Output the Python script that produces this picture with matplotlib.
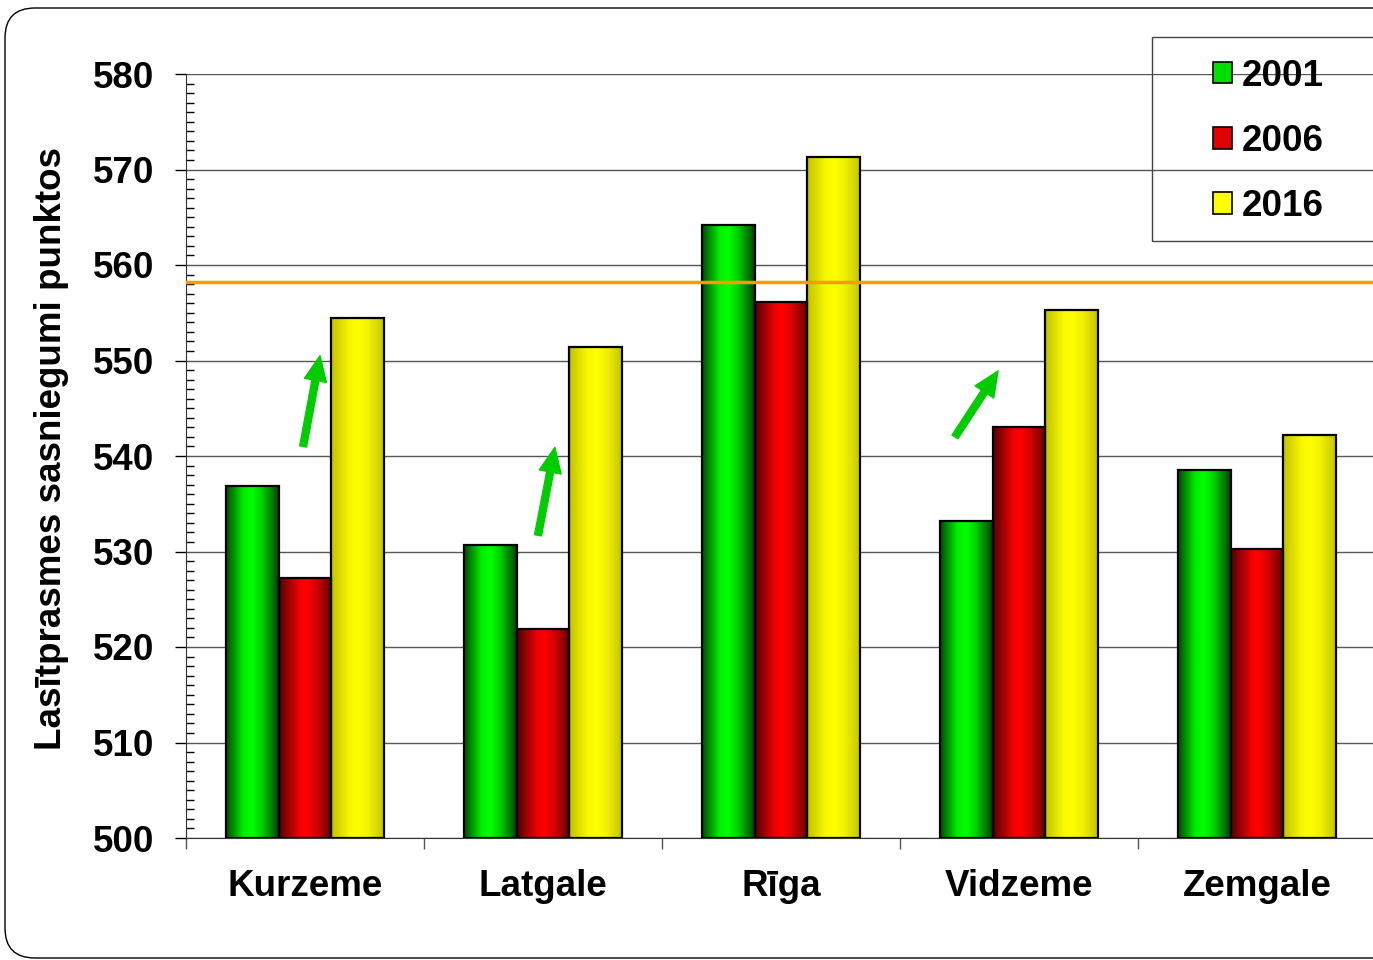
import matplotlib.pyplot as plt
import numpy as np
from matplotlib.colors import LinearSegmentedColormap
from matplotlib.patches import FancyBboxPatch, Rectangle, Patch
from matplotlib.ticker import MultipleLocator, FixedLocator

regions = ["Kurzeme", "Latgale", "Rīga", "Vidzeme", "Zemgale"]
years = ["2001", "2006", "2016"]
scores_2001 = [536.9, 530.7, 564.2, 533.2, 538.5]
scores_2006 = [527.2, 521.9, 556.1, 543.0, 530.3]
scores_2016 = [554.5, 551.4, 571.3, 555.3, 542.2]
reference_level = 558.2
# (tail x, tail y, head x, head y) in data units
arrows = [
    (-0.008, 541.0, 0.063, 550.5),
    (0.979, 531.7, 1.050, 540.9),
    (2.731, 542.0, 2.912, 548.9),
]

plt.rcParams["font.family"] = ["Liberation Sans", "DejaVu Sans"]
plt.rcParams["font.weight"] = "bold"

W, H = 1373, 960
FS = 26.5
fig = plt.figure(figsize=(W / 100, H / 100), dpi=100)
ax = fig.add_axes([186 / W, 1 - 838 / H, 1190 / W, (838 - 74) / H])

# horizontal shading for each series: colour stops across the bar width
shades = [
    [(0, "#004800"), (0.33, "#00f000"), (0.5, "#00ff00"), (0.68, "#00d000"), (1, "#004000")],
    [(0, "#500000"), (0.38, "#f00000"), (0.52, "#ff0000"), (0.72, "#d00000"), (1, "#600000")],
    [(0, "#c0c000"), (0.35, "#f8f800"), (0.52, "#ffff00"), (0.72, "#f0f000"), (1, "#c4c400")],
]
legend_colors = ["#00e000", "#e00000", "#ffff00"]

BAR = 0.222
x = np.arange(len(regions))
grad = np.linspace(0, 1, 256).reshape(1, -1)
for k, vals in enumerate([scores_2001, scores_2006, scores_2016]):
    cmap = LinearSegmentedColormap.from_list(f"s{k}", shades[k])
    bars = ax.bar(x + (k - 1) * BAR, np.array(vals) - 500, BAR, bottom=500,
                  facecolor="none", edgecolor="black", linewidth=1.6, zorder=3)
    for b in bars:
        x0, y0 = b.get_x(), b.get_y()
        ax.imshow(grad, cmap=cmap, aspect="auto", zorder=2.5,
                  extent=(x0, x0 + b.get_width(), y0, y0 + b.get_height()),
                  interpolation="bilinear")

ax.set_xlim(-0.5, 4.5)
ax.set_ylim(500, 580)

ax.axhline(reference_level, color="#ff9900", linewidth=2.5, zorder=4)

for tx, ty, hx, hy in arrows:
    ax.annotate("", xy=(hx, hy), xytext=(tx, ty), zorder=5,
                arrowprops=dict(arrowstyle="simple,head_width=1.6,head_length=1.8,tail_width=0.5",
                                color="#00cc00", shrinkA=0, shrinkB=0))

# axes styling
ax.yaxis.set_major_locator(MultipleLocator(10))
ax.yaxis.set_minor_locator(MultipleLocator(1))
ax.grid(axis="y", which="major", color="#555555", linewidth=1, zorder=0)
ax.set_axisbelow(True)
ax.tick_params(axis="y", which="major", direction="out", length=8, width=1,
               color="black", labelsize=FS, pad=15)
ax.tick_params(axis="y", which="minor", direction="in", length=5.5, width=1,
               color="black")
ax.set_xticks(x)
ax.set_xticklabels(regions)
ax.xaxis.set_minor_locator(FixedLocator(np.arange(-0.5, 5, 1)))
ax.tick_params(axis="x", which="major", length=0, labelsize=FS, pad=22)
ax.tick_params(axis="x", which="minor", direction="out", length=8, width=1,
               color="#555555")
for lab in ax.get_xticklabels() + ax.get_yticklabels():
    lab.set_fontweight("bold")
for side in ["top", "right"]:
    ax.spines[side].set_visible(False)
ax.spines["left"].set_color("#333333")
ax.spines["bottom"].set_color("#333333")

fig.text(52 / W, 1 - 448 / H, "Lasītprasmes sasniegumi punktos", rotation=90,
         ha="center", va="center", fontsize=FS, fontweight="bold")

# legend box, running past the right edge
fig.add_artist(Rectangle((1152, H - 241), 300, 204, transform=None,
                         fill=False, edgecolor="#444444", linewidth=1))
handles = [Patch(facecolor=c, edgecolor="black", linewidth=1.2) for c in legend_colors]
fig.legend(handles, years, loc="upper left",
           bbox_to_anchor=(1187 / W, 1 - 33 / H), frameon=False,
           prop={"weight": "bold", "size": FS},
           handlelength=0.52, handleheight=0.52, handletextpad=0.28,
           labelspacing=0.82, borderpad=0.2)

# rounded outer frame
fig.add_artist(FancyBboxPatch((5, 2), 1500, 950, transform=None,
                              boxstyle="round,pad=0,rounding_size=30",
                              fill=False, edgecolor="black", linewidth=1))

fig.savefig("out.png", dpi=100)
